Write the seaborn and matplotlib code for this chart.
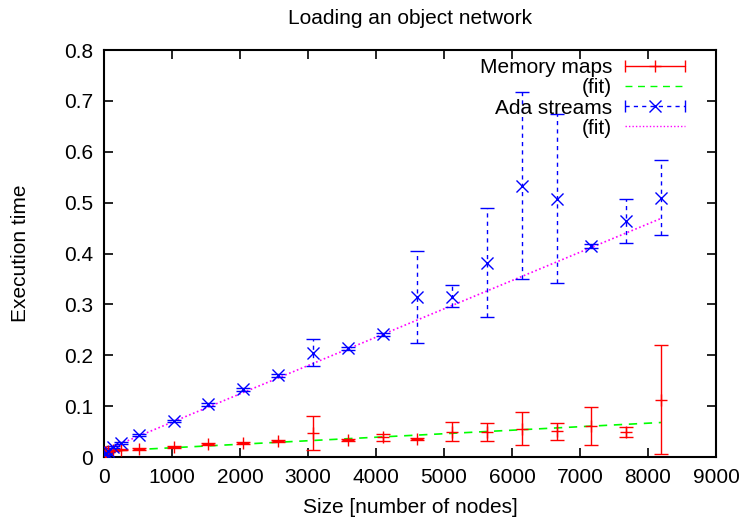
import numpy as np
import pandas as pd
import seaborn as sns
import matplotlib.pyplot as plt
from matplotlib.lines import Line2D
from matplotlib.legend_handler import HandlerBase

# data
sizes = [8, 16, 32, 64, 128, 256, 512, 1024, 1536, 2048, 2560, 3072, 3584,
         4096, 4608, 5120, 5632, 6144, 6656, 7168, 7680, 8192]

mem_time = [0.009, 0.009, 0.010, 0.011, 0.013, 0.0145, 0.0157, 0.020, 0.025, 0.028, 0.032,
            0.048, 0.0334, 0.040, 0.0354, 0.0497, 0.0497, 0.055, 0.051, 0.0615, 0.0497, 0.113]
mem_lo = [0.008, 0.008, 0.009, 0.010, 0.012, 0.013, 0.0145, 0.018, 0.023, 0.026, 0.030,
          0.014, 0.031, 0.032, 0.033, 0.031, 0.031, 0.0236, 0.0334, 0.024, 0.0387, 0.0053]
mem_hi = [0.010, 0.010, 0.011, 0.012, 0.014, 0.016, 0.017, 0.022, 0.027, 0.030, 0.034,
          0.081, 0.036, 0.0446, 0.038, 0.069, 0.067, 0.089, 0.067, 0.0988, 0.0595, 0.221]

ada_time = [0.005, 0.006, 0.008, 0.012, 0.020, 0.028, 0.043, 0.071, 0.1035, 0.133, 0.1605,
            0.204, 0.2135, 0.241, 0.315, 0.315, 0.382, 0.532, 0.508, 0.4145, 0.464, 0.510]
ada_lo = [0.004, 0.005, 0.007, 0.010, 0.018, 0.026, 0.041, 0.069, 0.101, 0.130, 0.158,
          0.179, 0.211, 0.238, 0.225, 0.295, 0.2745, 0.349, 0.343, 0.411, 0.421, 0.436]
ada_hi = [0.006, 0.007, 0.009, 0.014, 0.022, 0.030, 0.045, 0.073, 0.106, 0.136, 0.163,
          0.232, 0.216, 0.244, 0.405, 0.338, 0.490, 0.7165, 0.675, 0.418, 0.508, 0.5835]

# fitted lines: intercept, slope
mem_fit = (0.0113, 6.9e-6)
ada_fit = (0.0127, 5.57e-5)

df = pd.DataFrame({'size': sizes, 'mem': mem_time, 'ada': ada_time})
fit_x = np.array([sizes[0], sizes[-1]])
fit_df = pd.DataFrame({'size': fit_x,
                       'mem_fit': mem_fit[0] + mem_fit[1] * fit_x,
                       'ada_fit': ada_fit[0] + ada_fit[1] * fit_x})

sns.set_style('ticks')
plt.rcParams['font.family'] = ['Liberation Sans', 'DejaVu Sans']
plt.rcParams['text.color'] = 'black'
plt.rcParams['axes.labelcolor'] = 'black'
FS = 15
plt.rcParams['font.size'] = FS

fig = plt.figure(figsize=(7.4, 5.21), dpi=100)
ax = fig.add_axes([0.1405, 0.1228, 0.8271, 0.7812])

# error bars
mem_err = [np.array(mem_time) - np.array(mem_lo), np.array(mem_hi) - np.array(mem_time)]
ada_err = [np.array(ada_time) - np.array(ada_lo), np.array(ada_hi) - np.array(ada_time)]
ax.errorbar(sizes, mem_time, yerr=mem_err, fmt='none', ecolor='#ff0000',
            elinewidth=1, capsize=5, capthick=1, zorder=3)
eb = ax.errorbar(sizes, ada_time, yerr=ada_err, fmt='none', ecolor='#0000ff',
                 elinewidth=1, capsize=5, capthick=1, zorder=3)
eb[2][0].set_linestyle((0, (3, 3)))

# points
sns.scatterplot(data=df, x='size', y='mem', marker='+', s=70, color='#ff0000',
                linewidth=1.0, ax=ax, zorder=4)
sns.scatterplot(data=df, x='size', y='ada', marker='x', s=75, color='#0000ff',
                linewidth=1.0, ax=ax, zorder=4)

# fits
sns.lineplot(data=fit_df, x='size', y='mem_fit', color='#00ff00', lw=1.2,
             ax=ax, zorder=2).lines[-1].set_linestyle((0, (5, 4)))
sns.lineplot(data=fit_df, x='size', y='ada_fit', color='#ff00ff', lw=1.2,
             ax=ax, zorder=2).lines[-1].set_linestyle((0, (1, 1.5)))

ax.set_xlim(0, 9000)
ax.set_ylim(0, 0.8)
ax.set_xticks(range(0, 9001, 1000))
ax.set_yticks(np.arange(0, 0.81, 0.1))
ax.set_yticklabels(['0', '0.1', '0.2', '0.3', '0.4', '0.5', '0.6', '0.7', '0.8'])
ax.tick_params(direction='in', length=6.5, width=1.2, top=True, right=True,
               labelsize=FS, pad=8, colors='black')
for s in ax.spines.values():
    s.set_linewidth(1.5)
    s.set_color('black')

ax.set_title('Loading an object network', fontsize=FS, pad=19, color='black')
ax.set_xlabel('Size [number of nodes]', fontsize=FS, labelpad=8, color='black')
ax.set_ylabel('Execution time', fontsize=FS, labelpad=24, color='black')


class GnuHandler(HandlerBase):
    def __init__(self, color, ls, marker=None, caps=False):
        super().__init__()
        self.color, self.ls, self.marker, self.caps = color, ls, marker, caps

    def create_artists(self, legend, orig_handle, xdescent, ydescent, width,
                       height, fontsize, trans):
        y = height / 2 - ydescent
        x0, x1 = -xdescent, width - xdescent
        arts = [Line2D([x0, x1], [y, y], color=self.color, ls=self.ls, lw=1)]
        if self.caps:
            arts.append(Line2D([x0, x1], [y, y], ls='none', marker='|', ms=8,
                               mew=1, color=self.color))
        if self.marker:
            arts.append(Line2D([(x0 + x1) / 2], [y], ls='none', marker=self.marker,
                               ms=9, mew=1.0, color=self.color))
        for a in arts:
            a.set_transform(trans)
        return arts


keys = [object(), object(), object(), object()]
labels = ['Memory maps', '(fit)', 'Ada streams', '(fit)']
handlers = {
    keys[0]: GnuHandler('#ff0000', '-', '+', True),
    keys[1]: GnuHandler('#00ff00', (0, (5, 4))),
    keys[2]: GnuHandler('#0000ff', (0, (3, 3)), 'x', True),
    keys[3]: GnuHandler('#ff00ff', (0, (1, 1.5))),
}
leg = ax.legend(keys, labels, handler_map=handlers, loc='upper right',
                bbox_to_anchor=(0.97, 1.01), frameon=False, markerfirst=False,
                fontsize=FS, handlelength=2.9, handletextpad=0.6, labelspacing=0.05,
                borderaxespad=0.2)
for t in leg.get_texts():
    t.set_color('black')

plt.savefig('out.png', dpi=100)
